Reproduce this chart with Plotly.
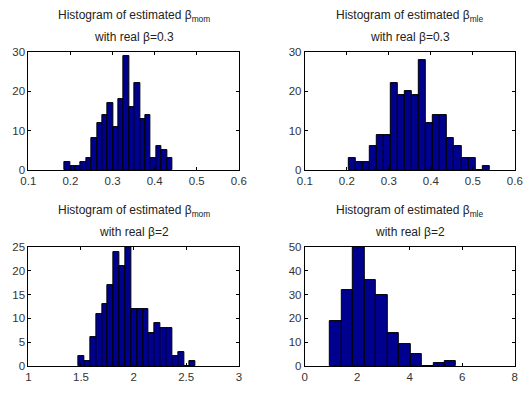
import numpy as np
import plotly.graph_objects as go

W, H = 532, 402

# Panel data: bin range (first edge, last edge) and counts per bin
counts_mom_03 = [2, 1, 1, 2, 3, 8, 12, 14, 17, 11, 18, 29, 16, 22, 13, 14, 3, 6, 5, 3]
range_mom_03 = (0.186, 0.442)

counts_mle_03 = [3, 2, 2, 6, 9, 9, 22, 19, 20, 19, 28, 12, 14, 14, 8, 6, 3, 3, 0, 1]
range_mle_03 = (0.2036, 0.540)

counts_mom_2 = [2, 1, 6, 11, 13, 17, 24, 21, 25, 12, 12, 12, 7, 9, 8, 8, 2, 3, 0, 1]
range_mom_2 = (1.477, 2.589)

counts_mle_2 = [19, 32, 50, 36, 30, 14, 9, 5, 0, 1, 2]
range_mle_2 = (0.97, 5.77)

titles = [
    ("Histogram of estimated β<sub>mom</sub>", "with real β=0.3"),
    ("Histogram of estimated β<sub>mle</sub>", "with real β=0.3"),
    ("Histogram of estimated β<sub>mom</sub>", "with real β=2"),
    ("Histogram of estimated β<sub>mle</sub>", "with real β=2"),
]

xranges = [(0.1, 0.6), (0.1, 0.6), (1, 3), (0, 8)]
xticks = [[0.1, 0.2, 0.3, 0.4, 0.5, 0.6], [0.1, 0.2, 0.3, 0.4, 0.5, 0.6],
          [1, 1.5, 2, 2.5, 3], [0, 2, 4, 6, 8]]
xticklabels = [["0.1", "0.2", "0.3", "0.4", "0.5", "0.6"],
               ["0.1", "0.2", "0.3", "0.4", "0.5", "0.6"],
               ["1", "1.5", "2", "2.5", "3"], ["0", "2", "4", "6", "8"]]
yranges = [(0, 30), (0, 30), (0, 25), (0, 50)]
yticks = [[0, 10, 20, 30], [0, 10, 20, 30], [0, 5, 10, 15, 20, 25],
          [0, 10, 20, 30, 40, 50]]

panels = [(counts_mom_03, range_mom_03), (counts_mle_03, range_mle_03),
          (counts_mom_2, range_mom_2), (counts_mle_2, range_mle_2)]

# pixel boxes of plot areas (left, right, top, bottom)
boxes = [(21, 238, 47.5, 169), (306, 522.5, 47.5, 169),
         (21, 238, 248.5, 371), (306, 522.5, 248.5, 371)]

fig = go.Figure()
layout = dict(width=W, height=H, margin=dict(l=0, r=0, t=0, b=0),
              paper_bgcolor="white", plot_bgcolor="white", showlegend=False,
              bargap=0, font=dict(family="Liberation Sans, Arial, sans-serif", size=11, color="#222"))
annotations = []

for i, ((counts, (lo, hi)), (l, r, t, b)) in enumerate(zip(panels, boxes)):
    n = len(counts)
    edges = np.linspace(lo, hi, n + 1)
    centers = (edges[:-1] + edges[1:]) / 2
    width = (hi - lo) / n
    xa = "x" if i == 0 else f"x{i+1}"
    ya = "y" if i == 0 else f"y{i+1}"
    fig.add_trace(go.Bar(x=centers, y=counts, width=width, xaxis=xa, yaxis=ya,
                         marker=dict(color="#00008F", line=dict(color="black", width=1)),
                         hoverinfo="x+y"))
    xkey = "xaxis" if i == 0 else f"xaxis{i+1}"
    ykey = "yaxis" if i == 0 else f"yaxis{i+1}"
    common = dict(showline=True, linecolor="black", linewidth=1, mirror="ticks",
                  ticks="inside", ticklen=3, tickcolor="black", showgrid=False,
                  zeroline=False, tickfont=dict(size=11.5, color="#333"))
    layout[xkey] = dict(domain=[l / W, r / W], range=list(xranges[i]),
                        tickvals=xticks[i], ticktext=xticklabels[i],
                        anchor=ya, ticklabelstandoff=0, **common)
    layout[ykey] = dict(domain=[1 - b / H, 1 - t / H], range=list(yranges[i]),
                        tickvals=yticks[i], anchor=xa, **common)
    cx = (l + r) / 2 / W
    annotations.append(dict(text=titles[i][0], x=cx, y=1 - (t - 37) / H,
                            xref="paper", yref="paper", showarrow=False,
                            xanchor="center", yanchor="middle",
                            font=dict(size=12, color="#222")))
    annotations.append(dict(text=titles[i][1], x=cx, y=1 - (t - 16) / H,
                            xref="paper", yref="paper", showarrow=False,
                            xanchor="center", yanchor="middle",
                            font=dict(size=12, color="#222")))

layout["annotations"] = annotations
fig.update_layout(**layout)
fig.write_html("out.html")
